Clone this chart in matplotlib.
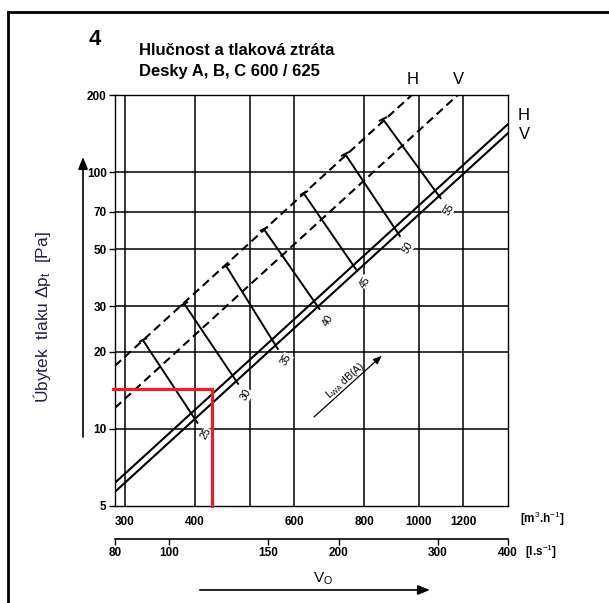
import matplotlib
matplotlib.use("Agg")
import matplotlib.pyplot as plt
from matplotlib.lines import Line2D
from matplotlib.markers import MarkerStyle
from matplotlib.transforms import Affine2D
from matplotlib.ticker import NullLocator, FixedLocator
from matplotlib.patches import FancyArrowPatch

plt.rcParams['font.family'] = ['Liberation Sans', 'DejaVu Sans']
plt.rcParams['mathtext.fontset'] = 'custom'
plt.rcParams['mathtext.rm'] = 'Liberation Sans'
plt.rcParams['mathtext.it'] = 'Liberation Sans:italic'
plt.rcParams['mathtext.bf'] = 'Liberation Sans:bold'
plt.rcParams['lines.scale_dashes'] = False

# ---------------- data ----------------
x_ticks_m3h = [300, 400, 600, 800, 1000, 1200]
x_grid_m3h = [300, 400, 500, 600, 800, 1000, 1200]
x_ticks_ls = [80, 100, 150, 200, 300, 400]
y_ticks_pa = [5, 10, 20, 30, 50, 70, 100, 200]

# pressure-loss lines (flow m3/h, dp Pa)
solid_H_flow = [288, 1440]
solid_H_dp = [6.16, 154.0]
solid_V_flow = [288, 1440]
solid_V_dp = [5.68, 142.0]
dashed_H_flow = [288, 1000]
dashed_H_dp = [17.6, 212.0]
dashed_V_flow = [288, 1200]
dashed_V_dp = [12.07, 209.5]

# sound power lines LWA dB(A)
lwa_labels = ['25', '30', '35', '40', '45', '50', '55']
lwa_top_flow = [322.7, 382.8, 454.1, 529.8, 623.4, 739.6, 863.1]
lwa_top_dp = [22.2, 30.6, 43.1, 60.0, 82.9, 117.5, 160.8]
lwa_bot_flow = [403.6, 476.7, 560.9, 665.4, 776.5, 924.8, 1092.7]
lwa_bot_dp = [10.55, 14.97, 20.48, 29.3, 41.2, 56.4, 79.2]

# red example point
red_flow = 429
red_dp = 14.3

# ---------------- figure ----------------
fig = plt.figure(figsize=(6.09, 6.03), dpi=100)
ax = fig.add_axes([115/609, 1-506/603, 393/609, 411/603])
ax.set_xscale('log')
ax.set_yscale('log')
ax.set_xlim(288, 1440)
ax.set_ylim(5, 200)

# grid
for gx in x_grid_m3h:
    ax.axvline(gx, color='black', lw=1.1, zorder=1)
for gy in y_ticks_pa[1:-1]:
    ax.axhline(gy, color='black', lw=1.1, zorder=1)

for s in ax.spines.values():
    s.set_linewidth(1.0)
    s.set_color('black')

ax.xaxis.set_major_locator(FixedLocator(x_ticks_m3h))
ax.xaxis.set_minor_locator(NullLocator())
ax.set_xticklabels([str(v) for v in x_ticks_m3h])
ax.yaxis.set_major_locator(FixedLocator(y_ticks_pa))
ax.yaxis.set_minor_locator(NullLocator())
ax.set_yticklabels([str(v) for v in y_ticks_pa])
ax.tick_params(axis='x', length=0, pad=7, labelsize=8.5)
ax.tick_params(axis='y', length=4, width=1, pad=2, labelsize=8.5)
for lab in ax.get_xticklabels() + ax.get_yticklabels():
    lab.set_fontweight('bold')

# main lines
ax.plot(solid_H_flow, solid_H_dp, color='black', lw=1.5, zorder=3)
ax.plot(solid_V_flow, solid_V_dp, color='black', lw=1.5, zorder=3)
ax.plot(dashed_H_flow, dashed_H_dp, color='black', lw=1.5, dashes=(6, 3.5), zorder=3)
ax.plot(dashed_V_flow, dashed_V_dp, color='black', lw=1.5, dashes=(6, 3.5), zorder=3)

# LWA lines
tbar = MarkerStyle('_', transform=Affine2D().rotate_deg(25))
for lab, tf, td, bf, bd in zip(lwa_labels, lwa_top_flow, lwa_top_dp, lwa_bot_flow, lwa_bot_dp):
    ax.plot([tf, bf], [td, bd], color='black', lw=1.4, zorder=3)
    ax.plot([tf], [td], marker=tbar, markersize=7, markeredgewidth=1.4, color='black', zorder=3)
    ax.annotate(lab, xy=(bf, bd), xytext=(6, -8), textcoords='offset points',
                rotation=60, ha='center', va='center', fontsize=7.5, zorder=4,
                bbox=dict(boxstyle='square,pad=0.05', fc='white', ec='none'))

# LWA arrow and label
ax.annotate('', xy=(0.684, 0.370), xytext=(0.501, 0.212), xycoords='axes fraction',
            arrowprops=dict(arrowstyle='-|>,head_length=0.5,head_width=0.2', color='black', lw=0.9))
ax.text(0.585, 0.305, r'L$_{\mathrm{WA}}$ dB(A)', transform=ax.transAxes, rotation=42,
        ha='center', va='center', fontsize=7.5)

# red example
ax.plot([ax.get_xlim()[0] * 0.99, red_flow, red_flow], [red_dp, red_dp, ax.get_ylim()[0]],
        color='#e8202a', lw=2.3, zorder=5, clip_on=False, solid_joinstyle='miter')

# H / V labels
ax.text(0.758, 1.037, 'H', transform=ax.transAxes, ha='center', va='center', fontsize=12)
ax.text(0.873, 1.037, 'V', transform=ax.transAxes, ha='center', va='center', fontsize=12)
ax.text(1.041, 0.951, 'H', transform=ax.transAxes, ha='center', va='center', fontsize=12)
ax.text(1.041, 0.903, 'V', transform=ax.transAxes, ha='center', va='center', fontsize=12)

# unit labels
ax.text(1.03, -0.032, r'[m$^3$.h$^{-1}$]', transform=ax.transAxes, ha='left', va='center',
        fontsize=8.5, fontweight='bold')
ax.text(1.043, -0.112, r'[l.s$^{-1}$]', transform=ax.transAxes, ha='left', va='center',
        fontsize=8.5, fontweight='bold')

# secondary l/s axis
sec = ax.secondary_xaxis(-0.0803, functions=(lambda v: v / 3.6, lambda v: v * 3.6))
sec.xaxis.set_major_locator(FixedLocator(x_ticks_ls))
sec.xaxis.set_minor_locator(NullLocator())
sec.set_xticklabels([str(v) for v in x_ticks_ls])
sec.tick_params(axis='x', direction='out', length=4, width=1, pad=2, labelsize=8.5)
sec.spines['bottom'].set_linewidth(1.2)
for lab in sec.get_xticklabels():
    lab.set_fontweight('bold')

# titles
fig.text(0.156, 0.934, '4', ha='center', va='center', fontsize=16, fontweight='bold')
fig.text(0.228, 0.917, 'Hlučnost a tlaková ztráta', ha='left', va='center', fontsize=12, fontweight='bold')
fig.text(0.228, 0.881, 'Desky A, B, C 600 / 625', ha='left', va='center', fontsize=12, fontweight='bold')

# y label and arrow
fig.text(0.069, 0.474, 'Úbytek  tlaku Δp$_{\\mathrm{t}}$  [Pa]', rotation=90, ha='center', va='center',
         fontsize=12.5, color='#222244')
fig.add_artist(FancyArrowPatch((0.1363, 0.2753), (0.1363, 0.7396),
               transform=fig.transFigure, arrowstyle='-|>,head_length=0.45,head_width=0.18',
               color='black', lw=1.2, mutation_scale=16, shrinkA=0, shrinkB=0))

# flow arrow and label
fig.add_artist(FancyArrowPatch((0.328, 0.0216), (0.706, 0.0216),
               transform=fig.transFigure, arrowstyle='-|>,head_length=0.45,head_width=0.18',
               color='black', lw=1.2, mutation_scale=16, shrinkA=0, shrinkB=0))
fig.text(0.530, 0.040, r'V$_{\mathrm{O}}$', ha='center', va='center', fontsize=11)

# outer frame
fig.add_artist(Line2D([8/609, 1.0], [1-12/603, 1-12/603], transform=fig.transFigure, color='black', lw=2))
fig.add_artist(Line2D([8/609, 8/609], [0.0, 1-12/603], transform=fig.transFigure, color='black', lw=2))

fig.savefig('out.png', dpi=100)
